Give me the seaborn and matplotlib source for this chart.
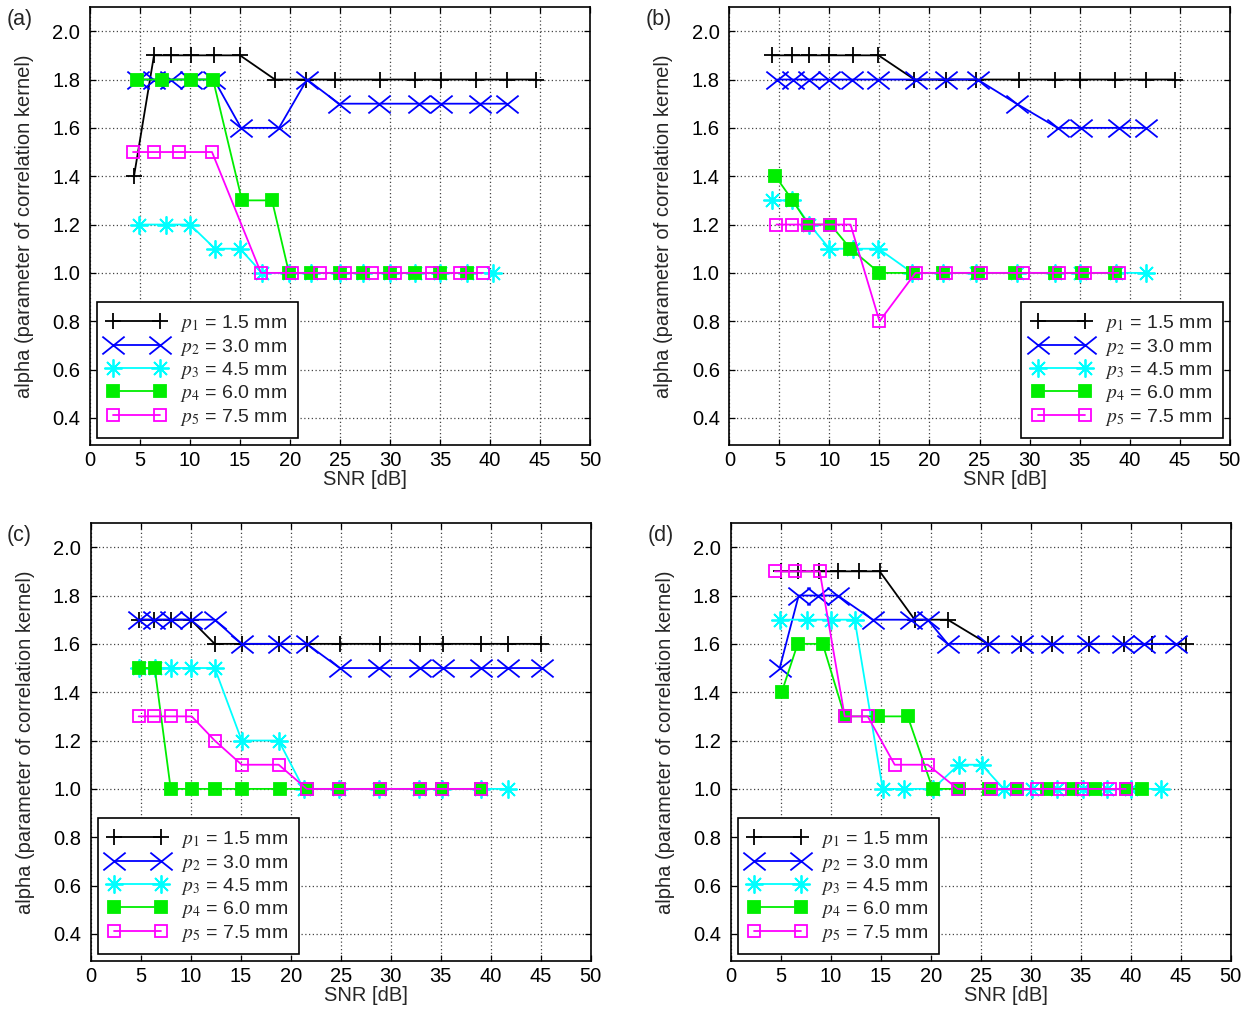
import numpy as np
import matplotlib
matplotlib.use("Agg")
import matplotlib.pyplot as plt
from matplotlib.path import Path
import seaborn as sns

# ---------------- data ----------------
labels = [r"$p_1$ = 1.5 mm", r"$p_2$ = 3.0 mm", r"$p_3$ = 4.5 mm",
          r"$p_4$ = 6.0 mm", r"$p_5$ = 7.5 mm"]
panel_names = ["(a)", "(b)", "(c)", "(d)"]
x_ticks = [0, 5, 10, 15, 20, 25, 30, 35, 40, 45, 50]
y_ticks = [0.4, 0.6, 0.8, 1.0, 1.2, 1.4, 1.6, 1.8, 2.0]

# panel (a)
a_p1_x = [4.4, 6.4, 8.1, 10.1, 12.4, 15.0, 18.5, 21.6, 24.5, 29.0, 32.5, 35.1, 38.6, 41.7, 44.6]
a_p1_y = [1.4, 1.9, 1.9, 1.9, 1.9, 1.9, 1.8, 1.8, 1.8, 1.8, 1.8, 1.8, 1.8, 1.8, 1.8]
a_p2_x = [4.8, 6.4, 8.1, 10.1, 12.4, 15.1, 18.9, 21.7, 24.9, 28.9, 32.9, 35.1, 39.0, 41.7]
a_p2_y = [1.8, 1.8, 1.8, 1.8, 1.8, 1.6, 1.6, 1.8, 1.7, 1.7, 1.7, 1.7, 1.7, 1.7]
a_p3_x = [4.9, 7.6, 10.0, 12.5, 15.0, 17.2, 19.9, 22.1, 25.0, 27.3, 30.0, 32.5, 35.0, 37.7, 40.3]
a_p3_y = [1.2, 1.2, 1.2, 1.1, 1.1, 1.0, 1.0, 1.0, 1.0, 1.0, 1.0, 1.0, 1.0, 1.0, 1.0]
a_p4_x = [4.7, 7.2, 10.1, 12.3, 15.2, 18.2, 19.9, 22.1, 25.0, 27.3, 30.0, 32.5, 35.0, 37.7]
a_p4_y = [1.8, 1.8, 1.8, 1.8, 1.3, 1.3, 1.0, 1.0, 1.0, 1.0, 1.0, 1.0, 1.0, 1.0]
a_p5_x = [4.3, 6.4, 8.9, 12.2, 17.1, 20.2, 23.0, 25.5, 28.2, 30.5, 34.2, 37.0, 39.3]
a_p5_y = [1.5, 1.5, 1.5, 1.5, 1.0, 1.0, 1.0, 1.0, 1.0, 1.0, 1.0, 1.0, 1.0]

# panel (b)
b_p1_x = [4.3, 6.3, 8.0, 10.0, 12.4, 14.9, 18.5, 21.6, 24.7, 28.9, 32.5, 35.0, 38.5, 41.6, 44.5]
b_p1_y = [1.9, 1.9, 1.9, 1.9, 1.9, 1.9, 1.8, 1.8, 1.8, 1.8, 1.8, 1.8, 1.8, 1.8, 1.8]
b_p2_x = [4.8, 6.4, 8.0, 10.0, 12.3, 14.9, 18.7, 21.6, 24.8, 28.7, 32.8, 35.1, 38.9, 41.6]
b_p2_y = [1.8, 1.8, 1.8, 1.8, 1.8, 1.8, 1.8, 1.8, 1.8, 1.7, 1.6, 1.6, 1.6, 1.6]
b_p3_x = [4.3, 6.3, 8.0, 10.0, 12.4, 14.9, 18.3, 21.3, 24.7, 28.7, 32.5, 35.0, 38.6, 41.6]
b_p3_y = [1.3, 1.3, 1.2, 1.1, 1.1, 1.1, 1.0, 1.0, 1.0, 1.0, 1.0, 1.0, 1.0, 1.0]
b_p4_x = [4.6, 6.3, 7.9, 10.1, 12.1, 15.0, 18.4, 21.4, 24.8, 28.5, 32.5, 35.2, 38.5]
b_p4_y = [1.4, 1.3, 1.2, 1.2, 1.1, 1.0, 1.0, 1.0, 1.0, 1.0, 1.0, 1.0, 1.0]
b_p5_x = [4.7, 6.3, 7.9, 10.1, 12.1, 15.0, 18.6, 21.6, 25.2, 29.3, 32.9, 35.5, 38.9]
b_p5_y = [1.2, 1.2, 1.2, 1.2, 1.2, 0.8, 1.0, 1.0, 1.0, 1.0, 1.0, 1.0, 1.0]

# panel (c)
c_p1_x = [4.8, 6.3, 8.0, 10.0, 12.4, 15.1, 18.8, 21.6, 24.9, 28.9, 32.9, 35.2, 39.0, 41.7, 45.0]
c_p1_y = [1.7, 1.7, 1.7, 1.7, 1.6, 1.6, 1.6, 1.6, 1.6, 1.6, 1.6, 1.6, 1.6, 1.6, 1.6]
c_p2_x = [4.8, 6.3, 8.0, 10.0, 12.4, 15.1, 18.8, 21.6, 24.9, 28.8, 32.9, 35.2, 39.0, 41.7, 45.1]
c_p2_y = [1.7, 1.7, 1.7, 1.7, 1.7, 1.6, 1.6, 1.6, 1.5, 1.5, 1.5, 1.5, 1.5, 1.5, 1.5]
c_p3_x = [4.8, 6.4, 8.0, 10.0, 12.4, 15.1, 18.8, 21.3, 24.8, 28.8, 32.8, 35.1, 39.0, 41.7]
c_p3_y = [1.5, 1.5, 1.5, 1.5, 1.5, 1.2, 1.2, 1.0, 1.0, 1.0, 1.0, 1.0, 1.0, 1.0]
c_p4_x = [4.8, 6.4, 8.0, 10.1, 12.4, 15.1, 18.9, 21.6, 24.8, 28.9, 32.9, 35.1, 39.0]
c_p4_y = [1.5, 1.5, 1.0, 1.0, 1.0, 1.0, 1.0, 1.0, 1.0, 1.0, 1.0, 1.0, 1.0]
c_p5_x = [4.8, 6.3, 8.0, 10.1, 12.4, 15.1, 18.8, 21.6, 24.8, 28.9, 32.9, 35.1, 39.0]
c_p5_y = [1.3, 1.3, 1.3, 1.3, 1.2, 1.1, 1.1, 1.0, 1.0, 1.0, 1.0, 1.0, 1.0]

# panel (d)
d_p1_x = [5.0, 6.7, 8.8, 10.7, 12.8, 14.9, 18.4, 21.7, 25.7, 29.0, 32.1, 35.8, 39.3, 42.1, 45.5]
d_p1_y = [1.9, 1.9, 1.9, 1.9, 1.9, 1.9, 1.7, 1.7, 1.6, 1.6, 1.6, 1.6, 1.6, 1.6, 1.6]
d_p2_x = [4.9, 6.8, 8.7, 10.7, 14.2, 18.0, 19.7, 21.7, 25.7, 29.1, 32.1, 35.7, 39.2, 41.3, 44.5]
d_p2_y = [1.5, 1.8, 1.8, 1.8, 1.7, 1.7, 1.7, 1.6, 1.6, 1.6, 1.6, 1.6, 1.6, 1.6, 1.6]
d_p3_x = [4.9, 7.6, 10.0, 12.4, 15.2, 17.3, 20.2, 22.8, 25.1, 27.3, 30.1, 32.6, 35.2, 37.6, 40.0, 43.0]
d_p3_y = [1.7, 1.7, 1.7, 1.7, 1.0, 1.0, 1.0, 1.1, 1.1, 1.0, 1.0, 1.0, 1.0, 1.0, 1.0, 1.0]
d_p4_x = [5.1, 6.7, 9.2, 11.4, 14.7, 17.7, 20.2, 22.8, 25.8, 28.6, 31.6, 34.1, 36.4, 39.5, 41.1]
d_p4_y = [1.4, 1.6, 1.6, 1.3, 1.3, 1.3, 1.0, 1.0, 1.0, 1.0, 1.0, 1.0, 1.0, 1.0, 1.0]
d_p5_x = [4.4, 6.4, 8.9, 11.4, 13.7, 16.4, 19.7, 22.7, 26.0, 28.6, 30.6, 32.9, 35.1, 37.9, 39.5]
d_p5_y = [1.9, 1.9, 1.9, 1.3, 1.3, 1.1, 1.1, 1.0, 1.0, 1.0, 1.0, 1.0, 1.0, 1.0, 1.0]

panels = [
    [(a_p1_x, a_p1_y), (a_p2_x, a_p2_y), (a_p3_x, a_p3_y), (a_p4_x, a_p4_y), (a_p5_x, a_p5_y)],
    [(b_p1_x, b_p1_y), (b_p2_x, b_p2_y), (b_p3_x, b_p3_y), (b_p4_x, b_p4_y), (b_p5_x, b_p5_y)],
    [(c_p1_x, c_p1_y), (c_p2_x, c_p2_y), (c_p3_x, c_p3_y), (c_p4_x, c_p4_y), (c_p5_x, c_p5_y)],
    [(d_p1_x, d_p1_y), (d_p2_x, d_p2_y), (d_p3_x, d_p3_y), (d_p4_x, d_p4_y), (d_p5_x, d_p5_y)],
]
legend_locs = ["lower left", "lower right", "lower left", "lower left"]

# ---------------- style ----------------
sns.set_style("ticks")
plt.rcParams["font.family"] = ["Liberation Sans", "DejaVu Sans"]
plt.rcParams["mathtext.fontset"] = "stix"
plt.rcParams["font.size"] = 14.5

x_marker = Path([(-1, -0.8), (1, 0.8), (-1, 0.8), (1, -0.8)],
                [Path.MOVETO, Path.LINETO, Path.MOVETO, Path.LINETO])
styles = [
    dict(color="#000000", marker="+", markersize=11, mfc="none"),
    dict(color="#0000ff", marker=x_marker, markersize=16, mfc="none"),
    dict(color="#00ffff", marker=(8, 2, 0), markersize=13, mfc="none"),
    dict(color="#00ee00", marker="s", markersize=9, mfc="#00ee00"),
    dict(color="#ff00ff", marker="s", markersize=9, mfc="none"),
]

W, H = 1253, 1010
fig = plt.figure(figsize=(W / 100, H / 100), dpi=100)
# axes boxes in pixels: (left, top, right, bottom)
boxes = [(90, 7, 590, 445), (729.5, 7, 1229.5, 445),
         (90.7, 523, 590.7, 961), (730.7, 523, 1230.7, 961)]
letter_pos = [(7, 19), (646, 19), (7, 535), (648, 535)]

for i, (box, series) in enumerate(zip(boxes, panels)):
    l, t, r, b = box
    ax = fig.add_axes([l / W, 1 - b / H, (r - l) / W, (b - t) / H])
    for (xs, ys), st, lab in zip(series, styles, labels):
        sns.lineplot(x=xs, y=ys, ax=ax, color=st["color"], marker=st["marker"],
                     markersize=st["markersize"], markerfacecolor=st["mfc"],
                     markeredgecolor=st["color"], markeredgewidth=1.3,
                     linewidth=1.3, estimator=None, sort=False, label=lab)
    ax.set_xlim(0, 50)
    ax.set_ylim(0.288, 2.1)
    ax.set_xticks(x_ticks)
    ax.set_yticks(y_ticks)
    ax.set_yticklabels([f"{v:.1f}" for v in y_ticks])
    ax.grid(True, linestyle=(0, (1, 2)), color="#444444", linewidth=0.9)
    ax.tick_params(direction="in", length=4, width=0.9, top=True, right=True,
                   labelsize=14.5, colors="black")
    ax.tick_params(axis="x", pad=4)
    ax.tick_params(axis="y", pad=7)
    for sp in ax.spines.values():
        sp.set_linewidth(1.2)
        sp.set_color("black")
    ax.set_xlabel("SNR [dB]", fontsize=14.5)
    ax.xaxis.set_label_coords(0.55, -0.058)
    ax.set_ylabel("alpha (parameter of correlation kernel)", fontsize=14.5)
    ax.yaxis.set_label_coords(-0.112, 0.5)
    leg = ax.legend(loc=legend_locs[i], numpoints=2, handlelength=3.0,
                    handletextpad=0.75, labelspacing=0.12, borderpad=0.55,
                    borderaxespad=0.35, fontsize=14, fancybox=False,
                    framealpha=1, edgecolor="black")
    leg.get_frame().set_linewidth(1.2)
    fig.text(letter_pos[i][0] / W, 1 - letter_pos[i][1] / H, panel_names[i],
             fontsize=15.5, va="center", ha="left")

fig.savefig("out.png", dpi=100)
